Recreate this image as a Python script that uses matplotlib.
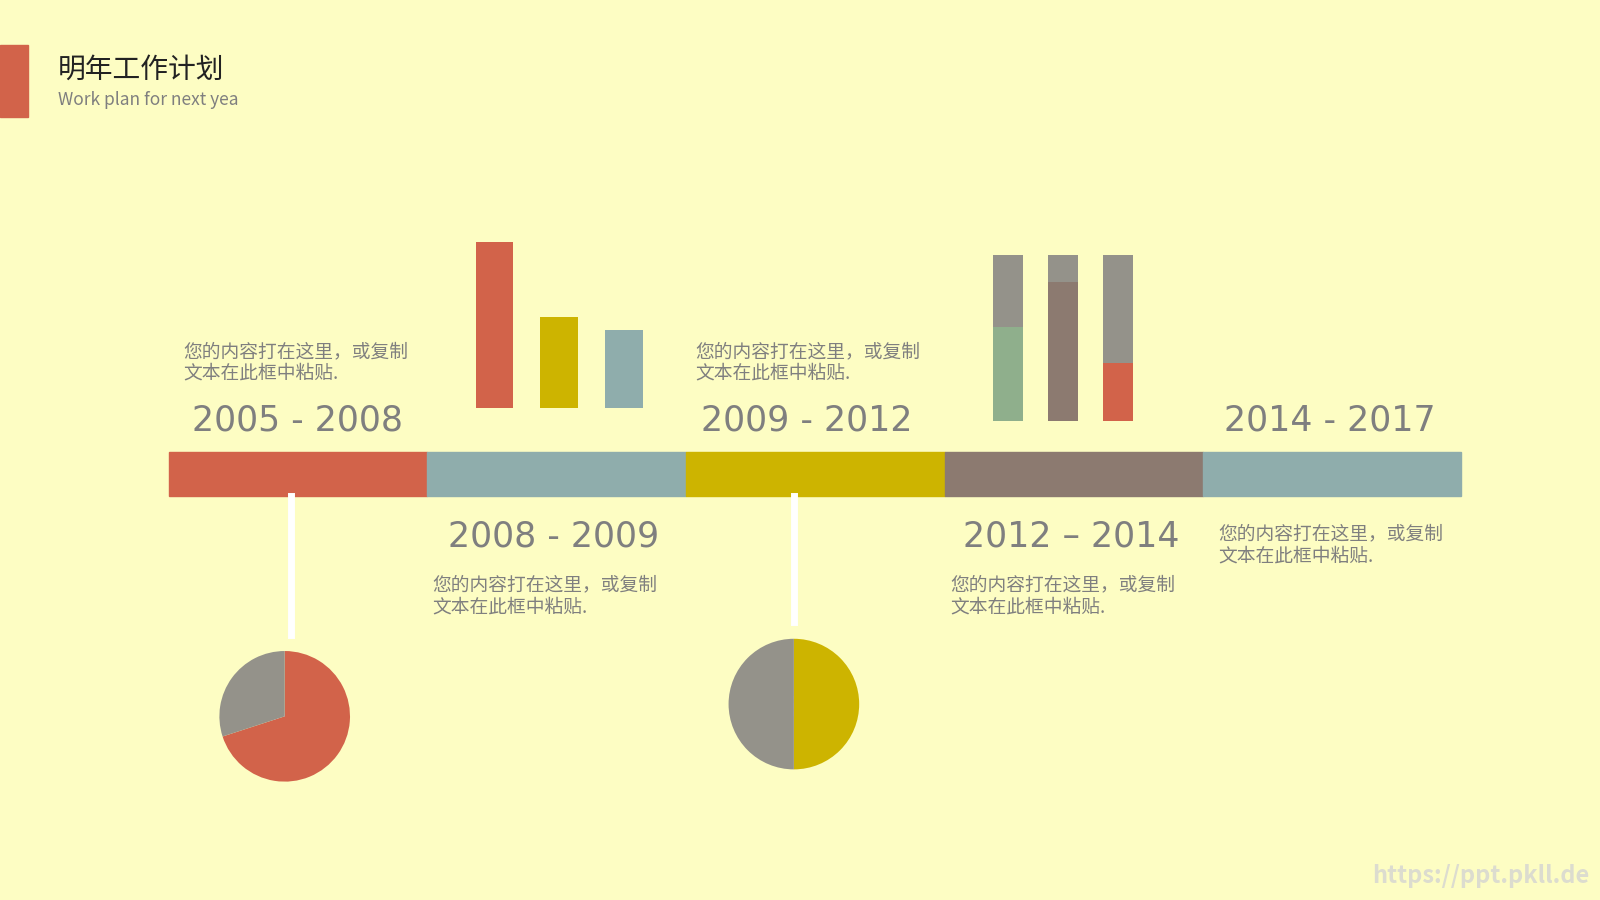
import matplotlib
matplotlib.use("Agg")
import matplotlib.pyplot as plt
from matplotlib.patches import Rectangle

plt.rcParams['font.family'] = ['Noto Sans CJK SC', 'DejaVu Sans']

BG = '#FDFDC3'
RED = '#D2634A'; BLUE = '#8FADAC'; YEL = '#CDB400'; BROWN = '#8C7A70'
GRAY = '#94928A'; GREEN = '#8FAF8C'; TXT = '#7F7F7F'

title = '明年工作计划'
subtitle = 'Work plan for next yea'
body = '您的内容打在这里，或复制\n文本在此框中粘贴.'
periods = ['2005 - 2008', '2008 - 2009', '2009 - 2012', '2012 – 2014', '2014 - 2017']
period_colors = [RED, BLUE, YEL, BROWN, BLUE]
bars1 = [100, 55, 47]
bars1_colors = [RED, YEL, BLUE]
stack_lower = [57, 84, 35]
stack_total = [100, 100, 100]
stack_lower_colors = [GREEN, BROWN, RED]
pie1 = [70, 30]
pie2 = [50, 50]

W, H = 1568, 882
fig = plt.figure(figsize=(16, 9), dpi=100, facecolor=BG)
ax = fig.add_axes([0, 0, 1, 1])
ax.set_xlim(0, W); ax.set_ylim(H, 0); ax.axis('off')
ax.set_facecolor(BG)

def fa(x0, y0, x1, y1):
    a = fig.add_axes([x0 / W, 1 - y1 / H, (x1 - x0) / W, (y1 - y0) / H])
    a.axis('off')
    return a

# header
ax.add_patch(Rectangle((0, 44), 27, 71, color=RED))
ax.text(57, 68, title, fontsize=20, color='#222222', va='center')
ax.text(57, 98, subtitle, fontsize=12.5, color=TXT, va='center')

# timeline
x_edges = [166, 418, 672, 926, 1179, 1432]
for i, c in enumerate(period_colors):
    ax.add_patch(Rectangle((x_edges[i], 443), x_edges[i + 1] - x_edges[i], 43, color=c))

# connectors
ax.plot([285, 285], [486, 622], color='white', lw=5)
ax.plot([778, 778], [486, 610], color='white', lw=5)

# labels
lab_pos = [(292, 412), (543, 526), (791, 412), (1050, 526), (1303, 412)]
for t, (x, y) in zip(periods, lab_pos):
    ax.text(x, y, t, fontsize=25, color=TXT, ha='center', va='center', family=['DejaVu Sans'])
for (x, y) in [(180, 334), (681, 334), (424, 563), (931, 563), (1194, 513)]:
    ax.text(x, y, body, fontsize=13.5, color=TXT, va='top', linespacing=1.05)

# bar group 1
b1 = fa(453, 237, 643, 400)
b1.bar(range(3), bars1, width=0.58, color=bars1_colors)
b1.set_xlim(-0.5, 2.5); b1.set_ylim(0, 100)

# stacked group 2
b2 = fa(961, 250, 1123, 413)
b2.bar(range(3), stack_total, width=0.54, color=GRAY)
b2.bar(range(3), stack_lower, width=0.54, color=stack_lower_colors)
b2.set_xlim(-0.5, 2.5); b2.set_ylim(0, 100)

# pies
p1 = fa(199, 622, 359, 782)
p1.pie(pie1, colors=[RED, GRAY], startangle=90, counterclock=False)
p1.set_aspect('equal')
ax.text(290, 708, '70%', fontsize=20, color='white', weight='bold', ha='center', va='center')
p2 = fa(698, 610, 858, 770)
p2.pie(pie2, colors=[YEL, GRAY], startangle=90, counterclock=False)
p2.set_aspect('equal')
ax.text(796, 695, '50%', fontsize=20, color='white', weight='bold', ha='center', va='center')

ax.text(1558, 858, 'https://ppt.pkll.de', fontsize=17, color='#DCDCCF', ha='right', va='center', weight='bold')

fig.savefig('out.png', dpi=100, facecolor=BG)
